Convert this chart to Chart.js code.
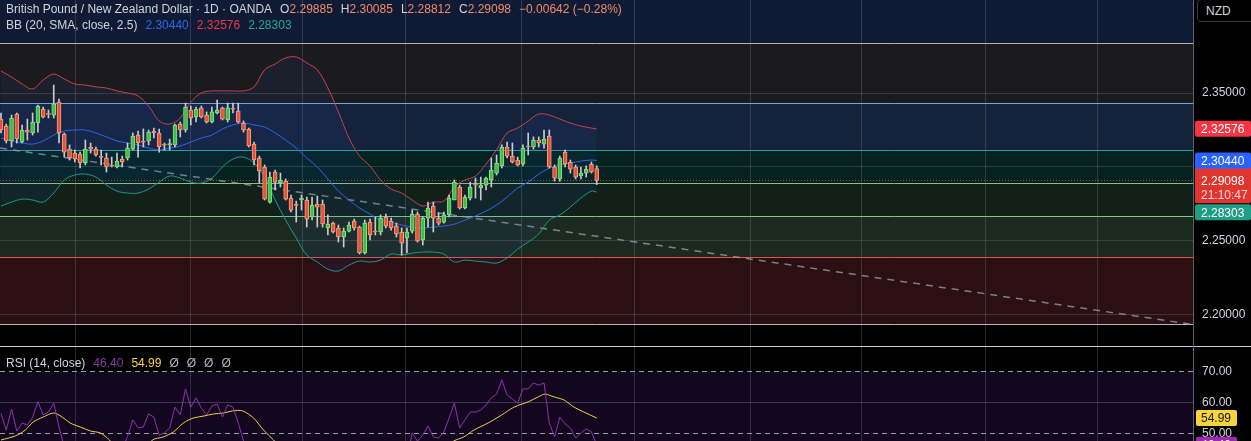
<!DOCTYPE html>
<html>
<head>
<meta charset="utf-8">
<title>GBPNZD 1D</title>
<script src="https://cdn.jsdelivr.net/npm/chart.js@4.4.1/dist/chart.umd.min.js"></script>
<style>
  html, body { margin:0; padding:0; background:#000; }
  #wrap { position:relative; width:1251px; height:441px; overflow:hidden; font-family:"Liberation Sans", Arial, sans-serif; }
  canvas { position:absolute; left:0; }
  #priceCanvas { top:0; }
  #rsiCanvas { top:347px; }
  #sep { position:absolute; left:0; top:346px; width:1251px; height:1px; background:#c9cbd2; }
  #vsep { position:absolute; left:1193px; top:0; width:1px; height:441px; background:#5d606b; }
  .leg { position:absolute; left:6px; font-size:12px; line-height:14px; color:#d1d4dc; white-space:nowrap; }
  .leg span { margin-left:8px; }
  .leg i { font-style:normal; }
  .dn { color:#f38a6a; }
  #nzd { position:absolute; left:1197px; top:-1px; width:60px; height:23px; border:1px solid #363a45; border-radius:4px; background:#000;
         color:#d1d4dc; font-size:12px; line-height:23px; padding-left:8px; box-sizing:border-box; }
</style>
</head>
<body>
<div id="wrap">
  <canvas id="priceCanvas" width="1251" height="346"></canvas>
  <canvas id="rsiCanvas" width="1251" height="94"></canvas>
  <div id="sep"></div>
  <div id="vsep"></div>
  <div id="nzd">NZD</div>
  <div class="leg" style="top:2px">British Pound / New Zealand Dollar · 1D · OANDA<span>O<i class="dn">2.29885</i></span><span>H<i class="dn">2.30085</i></span><span>L<i class="dn">2.28812</i></span><span>C<i class="dn">2.29098</i></span><span class="dn">−0.00642 (−0.28%)</span></div>
  <div class="leg" style="top:18px">BB (20, SMA, close, 2.5)<span style="color:#2f66e8">2.30440</span><span style="color:#f23645">2.32576</span><span style="color:#22ab94">2.28303</span></div>
  <div class="leg" style="top:356px">RSI (14, close)<span style="color:#8a3aa6">46.40</span><span style="color:#f5d53b">54.99</span><span style="color:#b2b5be">Ø</span><span style="color:#b2b5be">Ø</span><span style="color:#b2b5be">Ø</span><span style="color:#b2b5be">Ø</span></div>
</div>
<script>
// daily candles, oldest first
var opens = [2.3324,2.3277,2.3176,2.3358,2.3169,2.3250,2.3230,2.3297,2.3392,2.3360,
  2.3351,2.3439,2.3223,2.3121,2.3094,2.3088,2.3027,2.3135,2.3121,2.3069,
  2.3061,2.3009,2.3000,2.3054,2.3061,2.3121,2.3216,2.3171,2.3176,2.3243,
  2.3230,2.3151,2.3150,2.3149,2.3290,2.3250,2.3385,2.3338,2.3399,2.3351,
  2.3304,2.3365,2.3399,2.3318,2.3394,2.3378,2.3297,2.3257,2.3155,2.3061,
  2.3000,2.2763,2.2966,2.2892,2.2905,2.2790,2.2745,2.2777,2.2777,2.2662,
  2.2750,2.2750,2.2588,2.2621,2.2588,2.2527,2.2567,2.2635,2.2594,2.2419,
  2.2628,2.2563,2.2561,2.2662,2.2635,2.2601,2.2561,2.2520,2.2567,2.2682,
  2.2507,2.2655,2.2736,2.2655,2.2628,2.2676,2.2777,2.2865,2.2723,2.2790,
  2.2880,2.2858,2.2878,2.2912,2.2959,2.3007,2.3135,2.3074,2.3047,2.3020,
  2.3137,2.3135,2.3182,2.3155,2.3209,2.3000,2.2919,2.3101,2.3034,2.3000,
  2.2939,2.2959,2.3020,2.29885];
var highs = [2.3365,2.3290,2.3351,2.3365,2.3284,2.3324,2.3365,2.3419,2.3405,2.3385,
  2.3554,2.3459,2.3230,2.3149,2.3115,2.3101,2.3182,2.3162,2.3135,2.3115,
  2.3094,2.3067,2.3094,2.3074,2.3162,2.3230,2.3243,2.3257,2.3250,2.3263,
  2.3257,2.3162,2.3189,2.3290,2.3304,2.3432,2.3412,2.3405,2.3412,2.3372,
  2.3405,2.3453,2.3405,2.3432,2.3432,2.3432,2.3311,2.3263,2.3169,2.3074,
  2.3014,2.2966,2.2980,2.2959,2.2919,2.2811,2.2770,2.2811,2.2797,2.2797,
  2.2804,2.2777,2.2676,2.2628,2.2608,2.2588,2.2628,2.2648,2.2601,2.2642,
  2.2648,2.2662,2.2676,2.2682,2.2655,2.2621,2.2588,2.2588,2.2709,2.2696,
  2.2662,2.2763,2.2763,2.2689,2.2696,2.2811,2.2912,2.2878,2.2811,2.2898,
  2.2925,2.2932,2.2932,2.3061,2.3081,2.3149,2.3169,2.3162,2.3067,2.3149,
  2.3230,2.3203,2.3203,2.3250,2.3250,2.3014,2.3074,2.3115,2.3047,2.3014,
  2.3000,2.3007,2.3034,2.30085];
var lows = [2.3230,2.3162,2.3135,2.3162,2.3162,2.3182,2.3216,2.3236,2.3331,2.3331,
  2.3331,2.3162,2.3067,2.3047,2.3034,2.2993,2.3014,2.3094,2.3074,2.3014,
  2.2966,2.3000,2.2993,2.3000,2.3047,2.3115,2.3067,2.3135,2.3149,2.3196,
  2.3101,2.3115,2.3115,2.3135,2.3203,2.3236,2.3284,2.3304,2.3331,2.3297,
  2.3297,2.3358,2.3318,2.3304,2.3365,2.3297,2.3236,2.3135,2.3014,2.2892,
  2.2777,2.2756,2.2845,2.2865,2.2777,2.2696,2.2628,2.2709,2.2594,2.2642,
  2.2594,2.2594,2.2541,2.2554,2.2493,2.2459,2.2561,2.2574,2.2412,2.2412,
  2.2507,2.2541,2.2541,2.2588,2.2574,2.2527,2.2405,2.2419,2.2554,2.2493,
  2.2473,2.2594,2.2561,2.2608,2.2621,2.2662,2.2777,2.2716,2.2716,2.2777,
  2.2790,2.2777,2.2845,2.2865,2.2946,2.2993,2.3061,2.3027,2.3007,2.3007,
  2.3081,2.3121,2.3135,2.3128,2.2993,2.2905,2.2905,2.3000,2.2959,2.2919,
  2.2919,2.2932,2.2959,2.28812];
var closes = [2.3250,2.3176,2.3331,2.3189,2.3250,2.3236,2.3304,2.3412,2.3338,2.3356,
  2.3426,2.3230,2.3101,2.3061,2.3054,2.3027,2.3121,2.3121,2.3081,2.3065,
  2.3000,2.3005,2.3040,2.3034,2.3128,2.3209,2.3162,2.3167,2.3236,2.3230,
  2.3135,2.3147,2.3158,2.3284,2.3250,2.3405,2.3331,2.3392,2.3338,2.3304,
  2.3372,2.3385,2.3324,2.3399,2.3390,2.3304,2.3250,2.3142,2.3047,2.2973,
  2.2783,2.2932,2.2898,2.2912,2.2783,2.2709,2.2741,2.2790,2.2648,2.2743,
  2.2729,2.2615,2.2615,2.2561,2.2527,2.2567,2.2608,2.2588,2.2419,2.2621,
  2.2541,2.2561,2.2655,2.2601,2.2588,2.2547,2.2486,2.2561,2.2682,2.2500,
  2.2655,2.2723,2.2655,2.2621,2.2676,2.2790,2.2898,2.2723,2.2797,2.2865,
  2.2878,2.2878,2.2925,2.2980,2.3027,2.3135,2.3074,2.3034,2.3014,2.3128,
  2.3135,2.3182,2.3162,2.3189,2.3000,2.2925,2.3061,2.3020,2.2986,2.2932,
  2.2959,2.2986,2.2966,2.29098];

// Bollinger bands (candle index -> value)
var bbX = [0,2,4,6,8,10,12,14,16,18,20,22,24,26,28,30,32,34,36,38,40,42,44,46,48,50,52,54,56,58,
  60,62,64,66,68,70,72,74,76,78,80,82,84,86,88,90,92,94,96,98,100,102,104,106,108,110,112,113];
var bbUpper = [2.3649,2.3608,2.3561,2.3527,2.3588,2.3628,2.3595,2.3561,2.3554,2.3541,
  2.3534,2.3514,2.3500,2.3480,2.3412,2.3311,2.3290,2.3331,2.3439,2.3500,
  2.3514,2.3514,2.3514,2.3514,2.3541,2.3656,2.3696,2.3737,2.3743,2.3703,
  2.3656,2.3534,2.3372,2.3196,2.3074,2.3007,2.2912,2.2851,2.2824,2.2777,
  2.2736,2.2763,2.2770,2.2865,2.2912,2.2939,2.3020,2.3115,2.3230,2.3263,
  2.3311,2.3358,2.3351,2.3324,2.3297,2.3277,2.3263,2.32576];
var bbBasis = [2.3196,2.3176,2.3162,2.3155,2.3176,2.3216,2.3243,2.3250,2.3250,2.3230,
  2.3203,2.3176,2.3162,2.3149,2.3128,2.3115,2.3128,2.3142,2.3169,2.3196,
  2.3216,2.3257,2.3284,2.3297,2.3284,2.3270,2.3230,2.3182,2.3128,2.3061,
  2.3000,2.2919,2.2837,2.2777,2.2723,2.2682,2.2641,2.2628,2.2608,2.2594,
  2.2587,2.2594,2.2601,2.2614,2.2641,2.2669,2.2702,2.2743,2.2797,2.2858,
  2.2898,2.2952,2.2993,2.3013,2.3027,2.3040,2.3047,2.30440];
var bbLower = [2.2736,2.2763,2.2783,2.2777,2.2763,2.2824,2.2912,2.2946,2.2952,2.2932,
  2.2878,2.2837,2.2824,2.2824,2.2851,2.2898,2.2939,2.2925,2.2898,2.2892,
  2.2925,2.3000,2.3054,2.3067,2.3027,2.2932,2.2777,2.2641,2.2520,2.2405,
  2.2358,2.2310,2.2297,2.2337,2.2364,2.2358,2.2371,2.2412,2.2405,2.2418,
  2.2425,2.2425,2.2412,2.2358,2.2371,2.2364,2.2358,2.2351,2.2385,2.2445,
  2.2493,2.2547,2.2641,2.2675,2.2729,2.2790,2.2837,2.28303];

// RSI(14) per candle and its moving average
var rsiValues = [56.5,51.1,57.9,50.8,53.4,52.7,55.3,60.2,56.0,56.9,
  59.8,52.1,45.5,42,40,38,42,41,40,39,
  37,38,40,45,49,54.4,51.8,52.1,56.3,55.3,
  49.5,50.2,51.8,58.5,56.0,64.4,58.5,61.5,58.2,56.0,
  58.9,59.5,55.3,59.2,58.5,53.4,47.6,43,38,34,
  29,33,31,32,28,26,26,28,25,29,
  28,25,26,24,23,25,28,27,24,31,
  29,30,33,32,36,38,37,42,50.2,47.5,
  49.5,52.4,48.9,48.5,50.5,55.0,59.8,51.8,54.4,56.9,
  56.9,57.6,59.2,61.5,62.7,67.3,62.4,61.1,59.8,64.4,
  64.4,66.3,65.6,66.3,53.4,48.9,55.3,53.1,51.8,48.5,
  50.2,51.5,50.5,46.4];
var rsiMaX = [0,2.7,4.6,6.1,8,10,11.6,13.1,15,17,18.8,20.2,20.7,22,24,26,28,28.7,30.8,32.7,
  34.6,36.5,38.4,40.3,42.2,43.9,45.8,47.9,49.8,51.7,54,58,62,66,70,74,78,82,84,85.9,
  87.8,89.7,92.4,94.9,97.3,100,101.9,103.2,104.9,106.8,108.7,110.6,113];
var rsiMa = [47.9,49.2,51.1,53.7,55.3,56.6,55.3,53.4,52.1,50.8,50.2,48.5,47.6,46,45,44.5,45.5,47.9,48.9,50.5,
  53.4,55.0,55.6,56.3,56.6,57.3,57.3,55.0,51.1,47.9,44,38,33,30,29,30,33,42,45,47.6,
  48.9,51.1,53.4,55.9,58.5,60.2,61.8,62.7,61.8,60.8,58.5,56.9,54.99];

// month boundaries on the time axis (candle index)
var monthTicks = [14.04,35.85,57.1,76.8,98.8,120.1,142.1,163.3,186.8,207.9];
var priceTicks = [2.20,2.25,2.30,2.35];
var rsiTicks = [50,60,70];
var rsiLevels = [70,50];
// drawn horizontal levels, top to bottom
var levels = [2.3838,2.3432,2.3115,2.2892,2.2669,2.2392,2.1939];
var trendX = [-0.19,225.5];
var trendY = [2.3128,2.1939];
var countdown = '21:10:47';

var zoneFill = ['#0f1a34','#1b1b1e','#15233a','#062220','#11211a','#1b2a1e','#2b0f13'];
var levelColor = ['#b2b5be','#6fa8e6','#26a69a','#81c784','#81c784','#e5534b','#b2b5be'];
var gridCol = 'rgba(120,123,134,0.33)';
var font = '"Liberation Sans", Arial, sans-serif';
Chart.defaults.font.family = font;

function isUp(i){ return closes[i] >= opens[i]; }

// scales take no room of their own except the 58px price column
function noPadX(s){ s.height = 0; s.paddingLeft = 0; s.paddingRight = 0; s.paddingTop = 0; s.paddingBottom = 0; }
function noPadY(s){ s.width = 58; s.paddingTop = 0; s.paddingBottom = 0; s.paddingLeft = 0; s.paddingRight = 0; }

function box(ctx, x, top, w, h, bg){
  ctx.fillStyle = bg;
  ctx.beginPath();
  ctx.roundRect(x, top, w, h, 2);
  ctx.fill();
}
function label(ctx, txt, x, y, col){
  ctx.fillStyle = col;
  ctx.font = '12px ' + font;
  ctx.textAlign = 'left';
  ctx.textBaseline = 'middle';
  ctx.fillText(txt, x, y);
}

var pricePlugin = {
  id: 'pricePane',
  beforeDraw: function(chart){
    var ctx = chart.ctx, a = chart.chartArea, y = chart.scales.y;
    ctx.save();
    ctx.fillStyle = '#000';
    ctx.fillRect(0, 0, chart.width, chart.height);
    for (var i = 0; i < levels.length; i++) {
      var y1 = i == 0 ? a.top : y.getPixelForValue(levels[i-1]);
      var y2 = y.getPixelForValue(levels[i]);
      ctx.fillStyle = zoneFill[i];
      ctx.fillRect(a.left, y1, a.right - a.left, y2 - y1);
    }
    ctx.restore();
  },
  beforeDatasetsDraw: function(chart){
    var ctx = chart.ctx, a = chart.chartArea, y = chart.scales.y;
    ctx.save();
    ctx.lineWidth = 1;
    for (var i = 0; i < levels.length; i++) {
      var py = Math.round(y.getPixelForValue(levels[i])) + 0.5;
      ctx.strokeStyle = levelColor[i];
      ctx.beginPath(); ctx.moveTo(a.left, py); ctx.lineTo(a.right, py); ctx.stroke();
    }
    var cy = Math.round(y.getPixelForValue(closes[closes.length-1])) + 0.5;
    ctx.strokeStyle = '#e0352f';
    ctx.setLineDash([1,2]);
    ctx.beginPath(); ctx.moveTo(a.left, cy); ctx.lineTo(a.right, cy); ctx.stroke();
    ctx.restore();
  },
  afterDraw: function(chart){
    var ctx = chart.ctx, y = chart.scales.y;
    var x0 = chart.chartArea.right + 2, w = 56, h = 16, tx = x0 + 6;
    var last = closes.length - 1;
    ctx.save();
    var yUp = y.getPixelForValue(bbUpper[bbUpper.length-1]);
    var yMid = y.getPixelForValue(bbBasis[bbBasis.length-1]);
    var yLast = y.getPixelForValue(closes[last]);
    var yLow = y.getPixelForValue(bbLower[bbLower.length-1]);
    // last price + countdown
    var redTop = yLast - 15, redBot = yLast + 23;
    box(ctx, x0, redTop, w, redBot - redTop, '#e0352f');
    label(ctx, closes[last].toFixed(5), tx, yLast + 1, '#fff');
    label(ctx, countdown, tx, yLast + 15, '#ffd9d6');
    // basis sits over the top of the price box
    box(ctx, x0, yMid - h/2, w, h, '#2962ff');
    label(ctx, bbBasis[bbBasis.length-1].toFixed(5), tx, yMid + 1, '#fff');
    box(ctx, x0, yUp - h/2, w, h, '#f23645');
    label(ctx, bbUpper[bbUpper.length-1].toFixed(5), tx, yUp + 1, '#fff');
    yLow = Math.max(yLow, redBot + h/2 + 1);
    box(ctx, x0, yLow - h/2, w, h, '#1e9e84');
    label(ctx, bbLower[bbLower.length-1].toFixed(5), tx, yLow + 1, '#fff');
    ctx.restore();
  }
};

new Chart(document.getElementById('priceCanvas'), {
  type: 'bar',
  data: {
    datasets: [
      { type: 'line', label: 'BB upper', data: bbX.map(function(x, i){ return {x: x, y: bbUpper[i]}; }),
        borderColor: '#c9404f', borderWidth: 1, pointRadius: 0, tension: 0.35,
        fill: {target: 2}, backgroundColor: 'rgba(41,98,255,0.07)', order: 3 },
      { type: 'line', label: 'BB basis', data: bbX.map(function(x, i){ return {x: x, y: bbBasis[i]}; }),
        borderColor: '#2f66e8', borderWidth: 1, pointRadius: 0, tension: 0.35, fill: false, order: 3 },
      { type: 'line', label: 'BB lower', data: bbX.map(function(x, i){ return {x: x, y: bbLower[i]}; }),
        borderColor: '#1f9a82', borderWidth: 1, pointRadius: 0, tension: 0.35, fill: false, order: 3 },
      { type: 'line', label: 'trend', data: trendX.map(function(x, i){ return {x: x, y: trendY[i]}; }),
        borderColor: 'rgba(160,163,172,0.75)', borderWidth: 1.5, borderDash: [7,6], pointRadius: 0, fill: false, order: 4 },
      { label: 'wick', data: highs.map(function(hv, i){ return {x: i, y: [lows[i], hv]}; }),
        backgroundColor: '#c9cbd0', barThickness: 1, grouped: false, order: 2 },
      { label: 'body', data: opens.map(function(o, i){ return {x: i, y: [o, closes[i]]}; }),
        backgroundColor: function(c){ return isUp(c.dataIndex) ? '#3fbf4a' : '#e2533a'; },
        borderColor: function(c){ return isUp(c.dataIndex) ? '#8be07f' : '#ff9d7e'; },
        borderWidth: 1, borderSkipped: false, barThickness: 4, minBarLength: 1, grouped: false, order: 1 }
    ]
  },
  options: {
    responsive: false, animation: false, devicePixelRatio: 1,
    layout: { padding: 0 },
    plugins: { legend: { display: false }, tooltip: { enabled: false } },
    scales: {
      x: { type: 'linear', min: -0.19, max: 226.1, offset: false, afterFit: noPadX,
        afterBuildTicks: function(s){ s.ticks = monthTicks.map(function(v){ return {value: v}; }); },
        ticks: { display: false }, grid: { color: gridCol, drawTicks: false, offset: false }, border: { display: false } },
      y: { position: 'right', min: 2.17905, max: 2.41284, afterFit: noPadY,
        afterBuildTicks: function(s){ s.ticks = priceTicks.map(function(v){ return {value: v}; }); },
        ticks: { color: '#d1d4dc', padding: 9, font: { size: 12 }, callback: function(v){ return v.toFixed(5); } },
        grid: { color: gridCol, drawTicks: false }, border: { display: false } }
    }
  },
  plugins: [pricePlugin]
});

var rsiPlugin = {
  id: 'rsiPane',
  beforeDraw: function(chart){
    var ctx = chart.ctx, a = chart.chartArea, y = chart.scales.y;
    ctx.save();
    ctx.fillStyle = '#000';
    ctx.fillRect(0, 0, chart.width, chart.height);
    var y70 = y.getPixelForValue(rsiLevels[0]);
    ctx.fillStyle = '#13061f';
    ctx.fillRect(a.left, y70, a.right - a.left, a.bottom - y70);
    ctx.restore();
  },
  beforeDatasetsDraw: function(chart){
    var ctx = chart.ctx, a = chart.chartArea, y = chart.scales.y;
    ctx.save();
    ctx.strokeStyle = 'rgba(205,205,215,0.75)';
    ctx.lineWidth = 1;
    ctx.setLineDash([5,4]);
    rsiLevels.forEach(function(v){
      var py = Math.round(y.getPixelForValue(v)) + 0.5;
      ctx.beginPath(); ctx.moveTo(a.left, py); ctx.lineTo(a.right, py); ctx.stroke();
    });
    ctx.restore();
  },
  afterDraw: function(chart){
    var ctx = chart.ctx, y = chart.scales.y;
    var x0 = chart.chartArea.right + 3, w = 41, h = 16;
    ctx.save();
    var ym = y.getPixelForValue(rsiMa[rsiMa.length-1]);
    box(ctx, x0, ym - h/2, w, h, '#f5d53b');
    label(ctx, rsiMa[rsiMa.length-1].toFixed(2), x0 + 5, ym + 1, '#131722');
    var yr = y.getPixelForValue(rsiValues[rsiValues.length-1]);
    box(ctx, x0, yr - h/2, w, h, '#9c27b0');
    label(ctx, rsiValues[rsiValues.length-1].toFixed(2), x0 + 5, yr + 1, '#fff');
    ctx.restore();
  }
};

new Chart(document.getElementById('rsiCanvas'), {
  type: 'line',
  data: {
    datasets: [
      { label: 'RSI', data: rsiValues.map(function(v, i){ return {x: i, y: v}; }),
        borderColor: '#9131b0', borderWidth: 1, pointRadius: 0, tension: 0, fill: false },
      { label: 'RSI MA', data: rsiMaX.map(function(x, i){ return {x: x, y: rsiMa[i]}; }),
        borderColor: '#eed34a', borderWidth: 1, pointRadius: 0, tension: 0.3, fill: false }
    ]
  },
  options: {
    responsive: false, animation: false, devicePixelRatio: 1,
    layout: { padding: 0 },
    plugins: { legend: { display: false }, tooltip: { enabled: false } },
    scales: {
      x: { type: 'linear', min: -0.19, max: 226.1, afterFit: noPadX,
        afterBuildTicks: function(s){ s.ticks = monthTicks.map(function(v){ return {value: v}; }); },
        ticks: { display: false }, grid: { color: 'rgba(120,110,140,0.35)', drawTicks: false }, border: { display: false } },
      y: { position: 'right', min: 47.58, max: 77.9, afterFit: noPadY,
        afterBuildTicks: function(s){ s.ticks = rsiTicks.map(function(v){ return {value: v}; }); },
        ticks: { color: '#d1d4dc', padding: 9, font: { size: 12 }, callback: function(v){ return v.toFixed(2); } },
        grid: { color: function(c){ return c.tick && c.tick.value == 60 ? 'rgba(120,110,140,0.45)' : 'rgba(0,0,0,0)'; }, drawTicks: false },
        border: { display: false } }
    }
  },
  plugins: [rsiPlugin]
});
</script>
</body>
</html>
